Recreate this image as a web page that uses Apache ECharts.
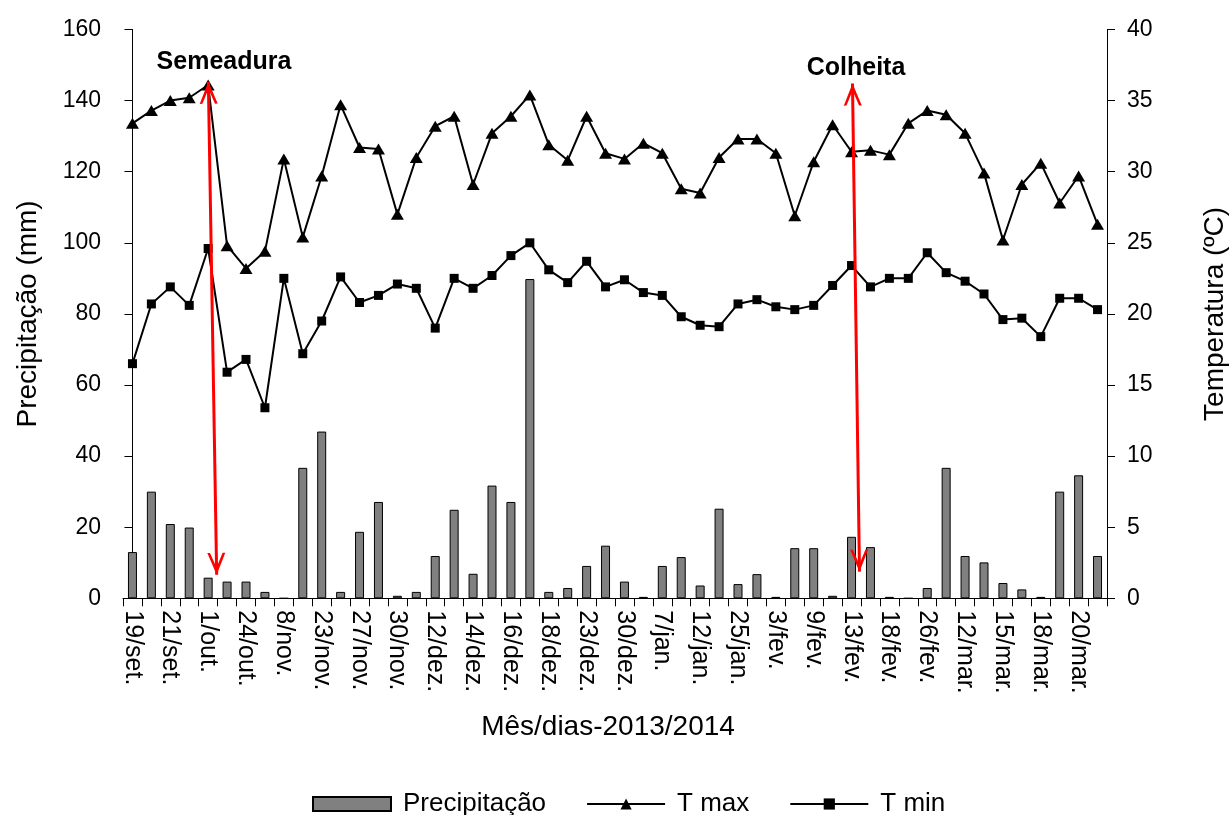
<!DOCTYPE html>
<html>
<head>
<meta charset="utf-8">
<script src="https://cdn.jsdelivr.net/npm/echarts@6/dist/echarts.min.js"></script>
<style>
html,body{margin:0;padding:0;background:#fff;}
#chart{width:1231px;height:815px;}
</style>
</head>
<body>
<div id="chart"></div>
<script>
// Shown date labels (one every two categories)
const shownLabels = ['19/set.','21/set.','1/out.','24/out.','8/nov.','23/nov.','27/nov.','30/nov.','12/dez.','14/dez.','16/dez.','18/dez.','23/dez.','30/dez.','7/jan.','12/jan.','25/jan.','3/fev.','9/fev.','13/fev.','18/fev.','26/fev.','12/mar.','15/mar.','18/mar.','20/mar.'];

// Precipitação (mm)
const precip = [13.0, 30.0, 20.9, 19.9, 5.8, 4.7, 4.7, 1.8, 0, 36.7,
  46.9, 1.8, 18.7, 27.1, 0.7, 1.8, 11.9, 24.9, 6.9, 31.7,
  27.1, 89.8, 1.8, 2.9, 9.1, 14.8, 4.7, 0.4, 9.1, 11.6,
  3.6, 25.2, 4.0, 6.8, 0.4, 14.1, 14.1, 0.7, 17.3, 14.4,
  0.4, 0, 2.9, 36.7, 11.9, 10.1, 4.3, 2.5, 0.4, 30.0,
  34.6, 11.9];

// T max (°C)
const tmax = [33.4, 34.3, 35.0, 35.2, 36.1, 24.8, 23.2, 24.4, 30.9, 25.4,
  29.7, 34.7, 31.7, 31.6, 27.0, 31.0, 33.2, 33.9, 29.1, 32.7,
  33.9, 35.4, 31.9, 30.8, 33.9, 31.3, 30.9, 32.0, 31.3, 28.8,
  28.5, 31.0, 32.3, 32.3, 31.3, 26.9, 30.7, 33.3, 31.4, 31.5,
  31.2, 33.4, 34.3, 34.0, 32.7, 29.9, 25.2, 29.1, 30.6, 27.8,
  29.7, 26.3];

// T min (°C)
const tmin = [16.5, 20.7, 21.9, 20.6, 24.6, 15.9, 16.8, 13.4, 22.5, 17.2,
  19.5, 22.6, 20.8, 21.3, 22.1, 21.8, 19.0, 22.5, 21.8, 22.7,
  24.1, 25.0, 23.1, 22.2, 23.7, 21.9, 22.4, 21.5, 21.3, 19.8,
  19.2, 19.1, 20.7, 21.0, 20.5, 20.3, 20.6, 22.0, 23.4, 21.9,
  22.5, 22.5, 24.3, 22.9, 22.3, 21.4, 19.6, 19.7, 18.4, 21.1,
  21.1, 20.3];

// Arrow endpoints [category position, mm]
const semeaduraArrow = [[4.01, 145.3], [4.45, 6.6]];
const colheitaArrow = [[38.05, 144.8], [38.42, 7.5]];

// categories: each shown label followed by an unlabeled day
const categories = [];
shownLabels.forEach(function (l) { categories.push(l); categories.push(l + ' '); });

const FONT = 'Liberation Sans, Arial, sans-serif';
const chevron = 'path://M10,0 L10,0.01 L10.01,0 Z M10,12 L20,24 L17,24 L10,16 L3,24 L0,24 Z';

const chart = echarts.init(document.getElementById('chart'));
chart.setOption({
  animation: false,
  backgroundColor: '#fff',
  textStyle: {fontFamily: FONT, color: '#000'},
  grid: {left: 123, right: 124, top: 29.5, bottom: 216.7, containLabel: false, outerBoundsMode: 'none'},
  legend: {
    data: [{name: 'Precipitação', icon: 'rect'}, {name: 'T max'}, {name: 'T min'}],
    left: 307, top: 786,
    itemWidth: 78, itemHeight: 14, itemGap: 40,
    textStyle: {fontSize: 26, color: '#000', fontFamily: FONT, padding: [0, 0, 0, 7]}
  },
  xAxis: [{
    type: 'category',
    data: categories,
    boundaryGap: true,
    axisLine: {lineStyle: {color: '#000', width: 1}},
    axisTick: {show: true, interval: 0, length: 8, lineStyle: {color: '#000'}},
    axisLabel: {interval: 1, rotate: -90, margin: 12, fontSize: 25, color: '#000', fontFamily: FONT,
      formatter: function (v) { return v.trim(); }},
    splitLine: {show: false},
    name: 'Mês/dias-2013/2014',
    nameLocation: 'middle',
    nameGap: 115,
    nameTextStyle: {fontSize: 28, color: '#000', fontFamily: FONT, padding: [0, 14, 0, 0]}
  }, {
    type: 'value', min: -0.5, max: 51.5, show: false
  }],
  yAxis: [{
    type: 'value', min: 0, max: 160, interval: 20,
    axisLine: {show: true, lineStyle: {color: '#000'}},
    axisTick: {show: true, length: 8, lineStyle: {color: '#000'}},
    axisLabel: {fontSize: 23, color: '#000', margin: 22, fontFamily: FONT},
    splitLine: {show: false},
    name: 'Precipitação (mm)',
    nameLocation: 'middle',
    nameGap: 81,
    nameTextStyle: {fontSize: 28, color: '#000', fontFamily: FONT}
  }, {
    type: 'value', min: 0, max: 40, interval: 5,
    axisLine: {show: true, lineStyle: {color: '#000'}},
    axisTick: {show: true, length: 8, lineStyle: {color: '#000'}},
    axisLabel: {fontSize: 23, color: '#000', margin: 20, fontFamily: FONT},
    splitLine: {show: false},
    name: 'Temperatura (ºC)',
    nameLocation: 'middle',
    nameRotate: 90,
    nameGap: 94,
    nameTextStyle: {fontSize: 28, color: '#000', fontFamily: FONT}
  }],
  series: [{
    name: 'Precipitação',
    type: 'bar',
    xAxisIndex: 0, yAxisIndex: 0,
    data: precip,
    barWidth: 9,
    itemStyle: {color: '#808080', borderColor: '#000', borderWidth: 1}
  }, {
    name: 'T max',
    type: 'line',
    xAxisIndex: 0, yAxisIndex: 1,
    data: tmax,
    symbol: 'triangle', symbolSize: [13, 11],
    lineStyle: {color: '#000', width: 2},
    itemStyle: {color: '#000'}
  }, {
    name: 'T min',
    type: 'line',
    xAxisIndex: 0, yAxisIndex: 1,
    data: tmin,
    symbol: 'rect', symbolSize: 9,
    lineStyle: {color: '#000', width: 2},
    itemStyle: {color: '#000'}
  }, {
    name: 'arrows',
    type: 'line',
    xAxisIndex: 1, yAxisIndex: 0,
    data: [],
    silent: true,
    markLine: {
      silent: true,
      symbol: [chevron, chevron],
      symbolSize: [18, 44],
      label: {show: false},
      lineStyle: {color: '#ff0000', width: 3, type: 'solid'},
      itemStyle: {color: '#ff0000'},
      emphasis: {disabled: true},
      data: [
        [{coord: semeaduraArrow[0]}, {coord: semeaduraArrow[1]}],
        [{coord: colheitaArrow[0]}, {coord: colheitaArrow[1]}]
      ]
    }
  }],
  graphic: [{
    type: 'text', x: 224, y: 62,
    style: {text: 'Semeadura', font: 'bold 25px ' + FONT, fill: '#000', textAlign: 'center', textVerticalAlign: 'middle'}
  }, {
    type: 'text', x: 856, y: 68,
    style: {text: 'Colheita', font: 'bold 25px ' + FONT, fill: '#000', textAlign: 'center', textVerticalAlign: 'middle'}
  }]
});
</script>
</body>
</html>
